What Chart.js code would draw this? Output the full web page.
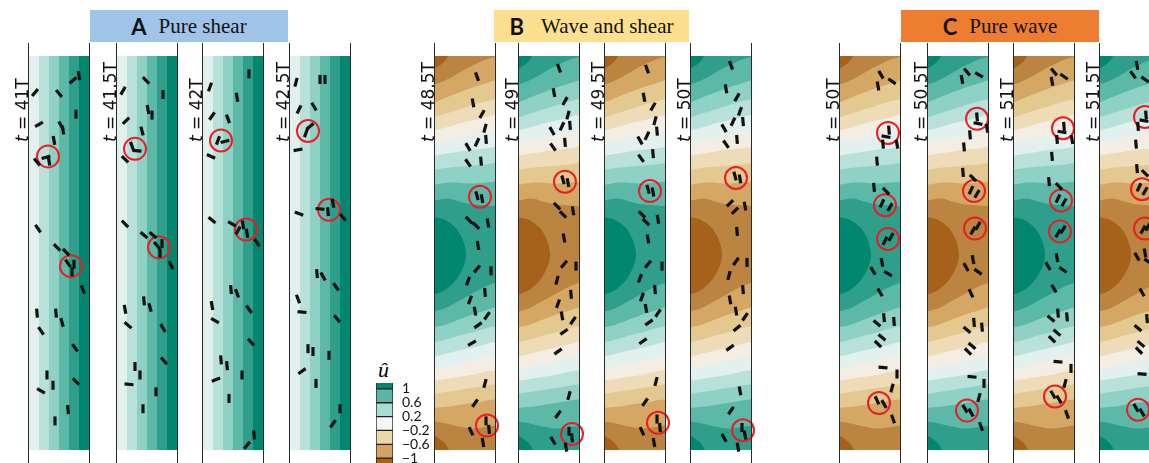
<!DOCTYPE html>
<html>
<head>
<meta charset="utf-8">
<script src="https://cdn.jsdelivr.net/npm/chart.js@4.4.1/dist/chart.umd.min.js"></script>
<style>
  body { margin: 0; width: 1149px; height: 463px; overflow: hidden; background: #fff; position: relative; }
  .strip { position: absolute; top: 43px; height: 420px; width: 88px; }
  .edge { position: absolute; top: 43px; height: 420px; width: 62px; box-sizing: border-box;
          border-left: 1px solid #2a2a2a; border-right: 1px solid #2a2a2a; pointer-events: none; }
  .tl { position: absolute; top: 142px; transform-origin: 0 0; transform: rotate(-90deg);
        font: 17px "DejaVu Sans"; line-height: 17px; white-space: nowrap; color: #111; }
  .head { position: absolute; top: 10px; height: 32px; display: flex; align-items: center; justify-content: center; }
  .head b { font: bold 22px Lato, "DejaVu Sans"; margin-right: 12px; color: #111; }
  .head span { font: 21px "Liberation Serif", serif; color: #111; }
  .uhat { position: absolute; left: 378px; top: 357px; font: italic 22px "Liberation Serif", serif; }
  #cbar { position: absolute; left: 376px; top: 383px; width: 67px; height: 80px; }
</style>
</head>
<body>
<div class="head" style="left:90px;width:198px;background:#a0c4e8"><b>A</b><span>Pure shear</span></div>
<div class="head" style="left:494px;width:195px;background:#fde08f"><b style="margin-right:17px">B</b><span>Wave and shear</span></div>
<div class="head" style="left:901px;width:198px;background:#ed7d31"><b>C</b><span>Pure wave</span></div>
<div class="uhat">û</div>
<div id="cbar"><canvas id="cb"></canvas></div>
<script>
// ---------- data ----------
const timesA = ['41T', '41.5T', '42T', '42.5T'];
const timesB = ['48.5T', '49T', '49.5T', '50T'];
const timesC = ['50T', '50.5T', '51T', '51.5T'];

// û bands, brown (low) to teal (high)
const bandColors = ['#a6611a', '#bb8441', '#d4a864', '#e3c98f', '#eddcb7', '#f4ede3',
                    '#e2f1ee', '#b8e1d9', '#8fd2c5', '#5cb9a8', '#2f9f8b', '#01876f'];

// pure shear: contour positions across the strip (0-60)
const shearEdges = [0, 10, 20, 30, 40, 50];

// wave field: contour heights along the strip (0-420) at waveX, levels -1 .. 0.8
const waveX = [0, 12, 24, 36, 48, 60];
const waveUpper = [
  [13, 2, -30, -60, -60, -60],
  [30, 25, 18, 11, 5, 1],
  [49, 44, 39, 34, 30, 26],
  [65, 61, 57, 53, 49, 46],
  [79, 76, 72, 69, 66, 63],
  [92, 90, 87, 85, 82, 80],
  [106, 104, 102, 100, 99, 97],
  [121, 119, 118, 117, 116, 114],
  [137, 135, 135, 136, 135, 134],
  [154, 152, 155, 158, 159, 160]
];
const waveLower = [
  [405, 416, 450, 480, 480, 480],
  [390, 392, 395, 397, 396, 394],
  [375, 374, 372, 370, 368, 366],
  [360, 358, 356, 354, 352, 350],
  [346, 344, 342, 340, 337, 335],
  [334, 331, 328, 325, 322, 320],
  [320, 317, 314, 311, 308, 305],
  [305, 302, 298, 295, 291, 288],
  [289, 286, 281, 276, 272, 268],
  [272, 268, 261, 254, 247, 242]
];
// level 1 closes on the left wall
const bulgeX = [0, 12, 24];
const bulgeUpper = [172, 176, 188];
const bulgeLower = [254, 248, 234];
const bulgeTip = [31, 212];

const phasesB = [0, 1, 0, 1];
const phasesC = [0, 1, 0, 1];

// colour bar
const cbTicks = [1, 0.6, 0.2, -0.2, -0.6, -1];
const cbBands = [[1, 1.4], [0.6, 1], [0.2, 0.6], [-0.2, 0.2], [-0.6, -0.2], [-1, -0.6], [-1.4, -1]];
const cbColors = ['#01876f', '#5bb6a5', '#a9dcd3', '#f5f5f5', '#ebd8a8', '#d4a45f', '#a6611a'];

// rods: [x across strip, y along strip, angle deg]
const rodsA = [
  [[50,21,80],[44,26,-40],[6,39,-50],[30,40,50],[47,62,90],[10,73,-30],[32,74,60],[34,79,80],[25,90,80],
   [17,108,-15],[20,112,80],[8,113,50],[9,184,55],[28,204,45],[37,209,45],[39,221,55],[45,222,90],[43,230,90],
   [54,249,70],[8,274,85],[27,274,85],[33,284,75],[12,293,55],[46,311,55],[18,340,90],[24,351,90],[12,357,30],
   [47,347,45],[39,377,85],[26,389,90]],
  [[29,26,45],[46,41,90],[6,37,-60],[31,57,80],[35,63,90],[9,69,-45],[25,80,75],[20,101,5],[15,96,70],[8,110,45],
   [8,179,45],[27,191,40],[36,191,40],[40,202,50],[45,200,90],[43,210,90],[54,223,65],[8,270,80],[27,261,85],
   [33,268,75],[11,287,40],[46,290,60],[47,325,50],[18,331,90],[23,340,90],[12,350,5],[39,358,90],[26,376,90]],
  [[46,19,90],[7,33,-70],[34,44,80],[9,64,-55],[25,67,70],[15,90,-70],[22,91,-15],[8,107,25],[9,175,40],
   [29,179,30],[40,180,80],[44,189,80],[35,186,-60],[54,199,55],[28,249,85],[34,253,70],[9,266,80],[46,270,55],
   [12,282,30],[48,305,50],[18,324,85],[24,330,85],[39,340,90],[13,345,-20],[26,365,90],[51,404,85],[44,415,-50]],
  [[6,28,-75],[30,25,90],[35,25,90],[9,57,-65],[24,54,60],[16,82,-70],[20,75,-40],[8,100,-10],[9,168,20],
   [30,163,5],[38,166,85],[43,157,80],[53,172,50],[27,232,85],[33,235,60],[46,246,55],[8,259,70],[12,273,5],
   [47,280,50],[18,312,90],[23,315,90],[39,319,90],[12,336,-35],[26,349,90],[50,376,90],[43,392,-55]]
];
const circlesA = [[[19,107],[42,224]], [[18,99],[42,204]], [[18,90],[43,185]], [[18,80],[39,164]]];

const rodsB = [
  [[42,22,70],[38,50,80],[47,62,-60],[50,77,-75],[42,92,-65],[33,97,60],[51,89,85],[46,112,85],[33,114,55],
   [42,149,75],[47,152,80],[34,175,45],[41,181,45],[53,178,80],[43,202,80],[42,227,-50],[56,229,90],[33,240,-70],
   [50,252,85],[35,260,-70],[40,272,80],[52,277,-55],[43,287,-35],[37,306,-30],[50,349,-75],[40,370,-55],
   [51,389,90],[54,398,85],[36,400,65],[48,412,80]],
  [[40,13,70],[35,39,80],[46,48,-60],[49,63,-75],[43,75,-65],[33,80,60],[51,74,85],[46,92,85],[34,97,55],
   [44,132,75],[49,135,80],[38,160,45],[44,169,45],[54,165,80],[45,194,80],[45,222,-50],[57,224,90],[38,239,-75],
   [52,254,85],[39,264,-70],[43,277,80],[54,282,-55],[45,294,-35],[39,315,-35],[50,362,-75],[39,382,-55],
   [50,400,90],[53,407,85],[34,410,60],[47,417,80]],
  [[42,14,70],[39,44,80],[48,54,-60],[50,69,-75],[42,85,-65],[35,90,60],[52,80,85],[48,104,85],[36,109,55],
   [43,142,75],[48,145,80],[37,169,45],[41,177,45],[53,174,80],[43,195,80],[43,222,-50],[57,224,90],[35,237,-70],
   [50,249,85],[37,257,-70],[41,269,80],[53,274,-55],[44,284,-35],[38,304,-35],[51,347,-75],[40,369,-55],
   [52,387,90],[55,396,85],[37,400,65],[49,412,80]],
  [[40,10,70],[35,35,80],[46,44,-60],[49,59,-70],[42,70,-65],[33,77,60],[52,70,85],[46,89,85],[35,94,55],
   [44,128,75],[49,131,80],[39,157,-45],[44,165,-45],[54,160,80],[46,187,85],[45,219,-55],[56,220,90],[38,234,-75],
   [52,249,85],[39,260,80],[45,272,80],[54,278,-55],[46,290,-40],[39,311,-35],[49,357,80],[40,378,-55],
   [51,396,90],[54,404,80],[33,407,60],[47,417,80]]
];
const circlesB = [[[45,150],[52,394]], [[46,134],[53,403]], [[45,144],[53,391]], [[45,130],[52,399]]];

const rodsC = [
  [[41,20,60],[52,27,35],[38,32,80],[49,79,85],[46,86,10],[57,94,80],[43,94,85],[37,112,85],[34,140,85],
   [46,144,45],[42,157,-65],[50,161,-60],[45,197,-65],[51,193,-60],[42,220,80],[33,229,60],[48,232,30],
   [40,252,60],[44,279,85],[54,283,85],[37,285,40],[42,300,40],[38,307,45],[43,332,5],[57,339,90],
   [52,354,-75],[37,367,65],[44,371,60],[53,387,70]],
  [[39,17,50],[51,20,30],[34,25,80],[49,65,85],[50,72,10],[59,77,80],[42,84,85],[36,97,85],[35,124,85],
   [45,130,45],[43,143,-65],[49,147,-60],[45,186,-60],[50,181,-60],[45,217,80],[38,225,60],[50,230,35],
   [43,253,65],[46,284,85],[54,289,85],[39,292,40],[44,309,40],[40,315,45],[44,342,5],[56,349,90],
   [51,364,-75],[37,376,60],[43,380,60],[53,395,70]],
  [[40,17,50],[50,22,35],[38,27,80],[50,75,85],[48,81,10],[58,89,80],[43,89,85],[38,107,85],[35,134,85],
   [45,139,45],[44,152,-65],[50,156,-60],[44,189,-60],[49,185,-60],[43,215,80],[34,224,60],[49,228,35],
   [40,248,60],[44,274,85],[53,278,85],[37,280,40],[43,295,40],[38,302,45],[44,326,5],[57,333,90],
   [51,349,-75],[39,361,60],[45,366,60],[53,382,70]],
  [[37,10,80],[33,20,55],[45,25,35],[46,63,85],[44,69,10],[38,75,85],[36,94,85],[37,120,85],[45,125,45],
   [39,140,-65],[45,144,-60],[43,185,-60],[48,182,-60],[45,210,80],[37,214,60],[48,219,35],[42,252,60],
   [47,280,85],[38,290,40],[41,307,40],[39,314,45],[42,339,5],[36,375,60],[42,380,60]]
];
const circlesC = [[[48,82],[45,159],[48,195],[39,370]], [[49,67],[46,144],[47,184],[39,378]],
                  [[49,77],[47,154],[46,187],[41,363]], [[45,65],[42,142],[45,184],[38,377]]];

// ---------- layout ----------
const layout = {
  A: [29, 117, 203, 290],
  B: [435, 519, 605, 691],
  C: [840, 928, 1014, 1100],
  pad: 14
};

// ---------- field shapes ----------
function bandPoly(up, lo, xs) {
  const pts = [{ x: -6, y: up[0] }];
  xs.forEach((x, k) => pts.push({ x, y: up[k] }));
  pts.push({ x: 66, y: up[up.length - 1] }, { x: 66, y: lo[lo.length - 1] });
  for (let k = xs.length - 1; k >= 0; k--) pts.push({ x: xs[k], y: lo[k] });
  pts.push({ x: -6, y: lo[0] });
  return pts;
}
function bulgePoly() {
  const pts = [{ x: -6, y: bulgeUpper[0] }];
  bulgeX.forEach((x, k) => pts.push({ x, y: bulgeUpper[k] }));
  pts.push({ x: bulgeTip[0], y: bulgeTip[1] });
  for (let k = bulgeX.length - 1; k >= 0; k--) pts.push({ x: bulgeX[k], y: bulgeLower[k] });
  pts.push({ x: -6, y: bulgeLower[0] });
  return pts;
}
function rect(x0) {
  return [{ x: x0, y: -60 }, { x: 70, y: -60 }, { x: 70, y: 480 }, { x: x0, y: 480 }];
}
function area(pts, color, order, tension) {
  return { data: pts, fill: 'shape', backgroundColor: color, borderWidth: 0, pointRadius: 0,
           tension: tension, order: order };
}

function fieldSets(kind, phase) {
  const sets = [];
  if (kind === 'shear') {
    sets.push(area(rect(-10), bandColors[6], 300, 0));
    for (let i = 1; i < shearEdges.length; i++) {
      sets.push(area(rect(shearEdges[i]), bandColors[6 + i], 200 - i, 0));
    }
    return sets;
  }
  const col = i => phase === 0 ? bandColors[i] : bandColors[11 - i];
  sets.push(area(rect(-10), col(0), 300, 0));
  waveUpper.forEach((up, i) => {
    sets.push(area(bandPoly(up, waveLower[i], waveX), col(i + 1), 200 - i, 0.35));
  });
  sets.push(area(bulgePoly(), col(11), 150, 0.35));
  return sets;
}

function makeStrip(left, label, kind, phase, rods, circles) {
  const wrap = document.createElement('div');
  wrap.className = 'strip';
  wrap.style.left = (left - layout.pad) + 'px';
  const cv = document.createElement('canvas');
  wrap.appendChild(cv);
  document.body.appendChild(wrap);

  const edge = document.createElement('div');
  edge.className = 'edge';
  edge.style.left = (left - 1) + 'px';
  document.body.appendChild(edge);

  const tl = document.createElement('div');
  tl.className = 'tl';
  tl.style.left = (left - 15) + 'px';
  tl.innerHTML = '<i>t</i> = ' + label;
  document.body.appendChild(tl);

  const datasets = [
    { data: rods.map(r => ({ x: r[0], y: r[1] })), showLine: false, pointStyle: 'line',
      pointRadius: 4.5, pointBorderWidth: 3.2, pointBorderColor: '#111', pointBackgroundColor: '#111',
      pointRotation: rods.map(r => r[2]), clip: false, order: 0 },
    { data: circles.map(c => ({ x: c[0], y: c[1] })), showLine: false, pointStyle: 'circle',
      pointRadius: 11, pointBorderWidth: 2, pointBorderColor: '#ec1c24',
      pointBackgroundColor: 'rgba(0,0,0,0)', clip: false, order: 1 }
  ].concat(fieldSets(kind, phase));

  new Chart(cv, {
    type: 'line',
    data: { datasets },
    options: {
      responsive: true, maintainAspectRatio: false, animation: false, events: [],
      devicePixelRatio: 1,
      layout: { padding: { left: layout.pad, right: layout.pad, top: 0, bottom: 0 } },
      plugins: { legend: { display: false }, tooltip: { enabled: false } },
      scales: {
        x: { type: 'linear', min: 0, max: 60, display: false },
        y: { type: 'linear', min: 0, max: 420, reverse: true, display: false }
      }
    }
  });
}

layout.A.forEach((L, i) => makeStrip(L, timesA[i], 'shear', 0, rodsA[i], circlesA[i]));
layout.B.forEach((L, i) => makeStrip(L, timesB[i], 'wave', phasesB[i], rodsB[i], circlesB[i]));
layout.C.forEach((L, i) => makeStrip(L, timesC[i], 'wave', phasesC[i], rodsC[i], circlesC[i]));

// ---------- colour bar ----------
new Chart(document.getElementById('cb'), {
  type: 'bar',
  data: {
    labels: ['û'],
    datasets: cbBands.map((b, i) => ({
      data: [b], backgroundColor: cbColors[i], borderColor: '#222', borderWidth: 1,
      borderSkipped: false, barPercentage: 1, categoryPercentage: 1, grouped: false
    }))
  },
  options: {
    responsive: true, maintainAspectRatio: false, animation: false, events: [],
    devicePixelRatio: 1,
    layout: { autoPadding: false, padding: 0 },
    plugins: { legend: { display: false }, tooltip: { enabled: false } },
    scales: {
      x: { display: false },
      y: {
        position: 'right', min: -1.14, max: 1.17,
        grid: { display: false, drawTicks: false }, border: { display: false },
        afterBuildTicks: axis => { axis.ticks = cbTicks.map(v => ({ value: v })); },
        afterFit: axis => { axis.width = 50; axis.paddingTop = 0; axis.paddingBottom = 0; },
        ticks: { padding: 9, color: '#111', autoSkip: false, font: { family: 'Lato', size: 14 },
                 callback: v => String(v).replace('-', '\u2212') }
      }
    }
  }
});
</script>
</body>
</html>
